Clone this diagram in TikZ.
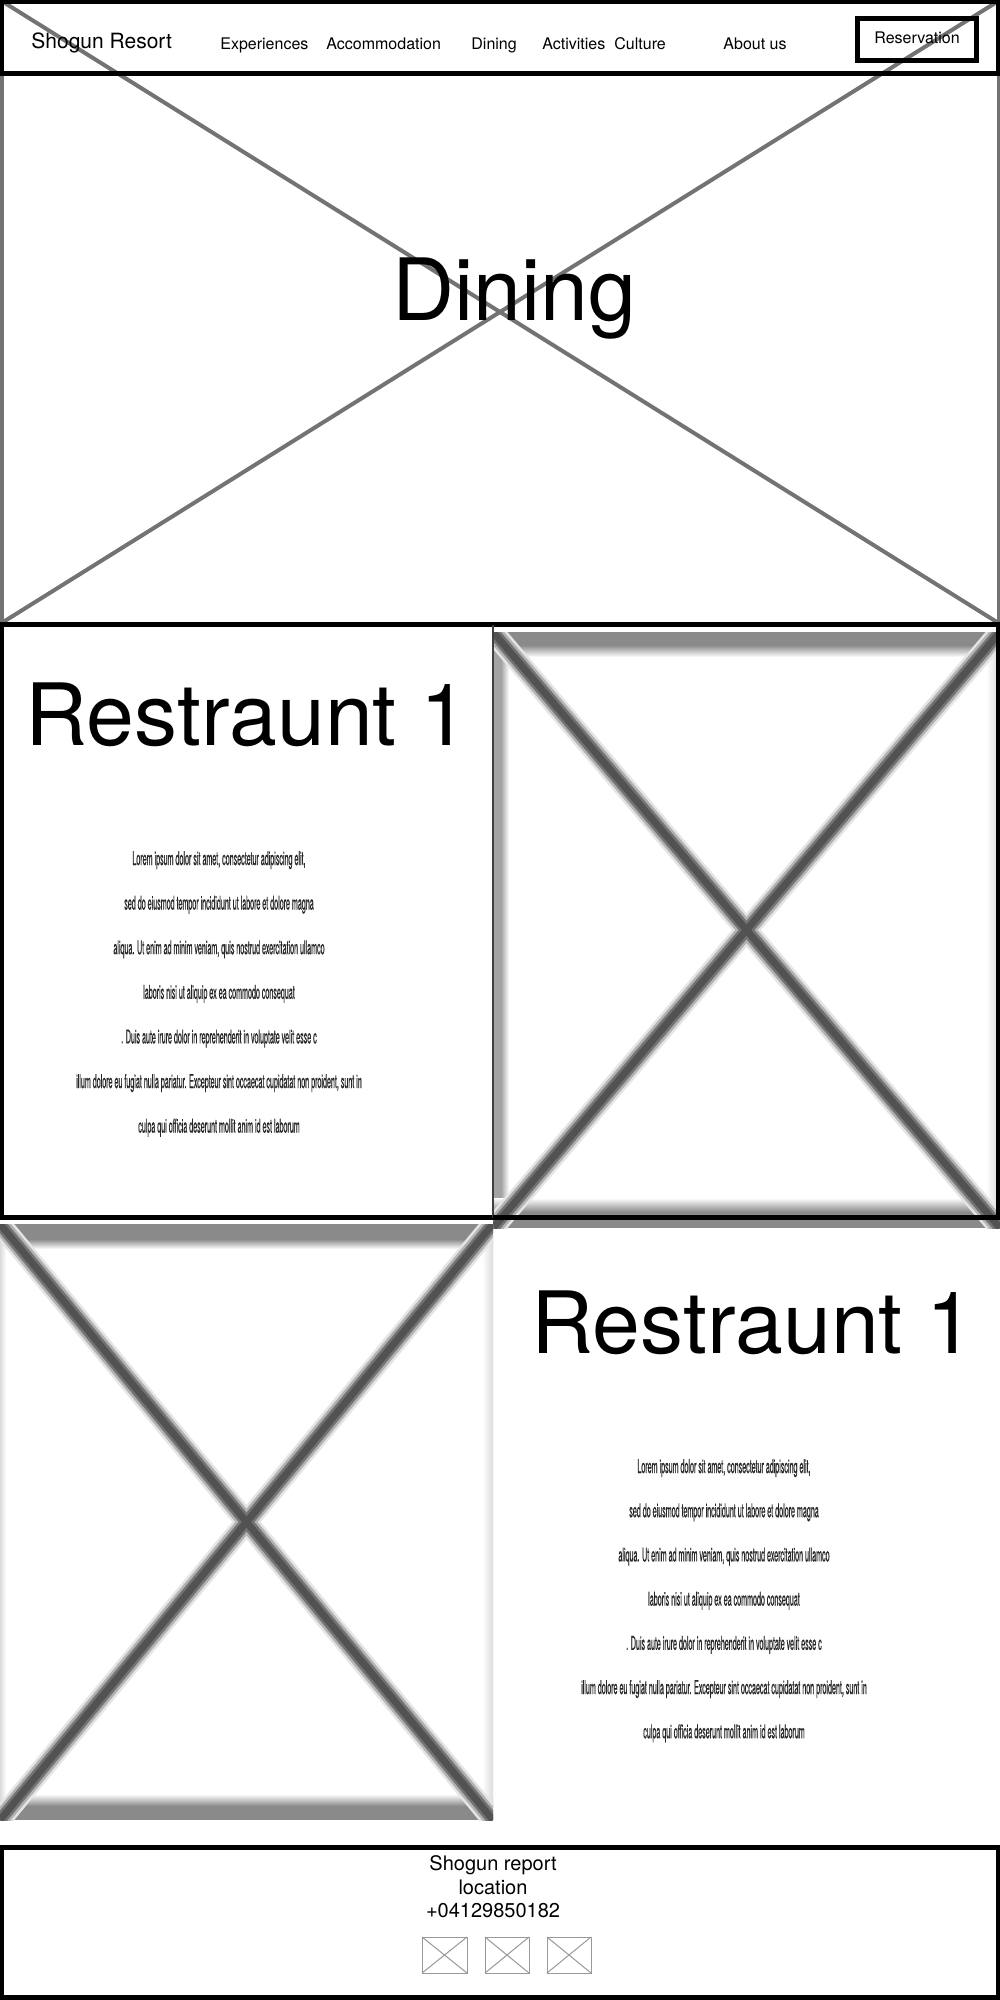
\documentclass[tikz,border=0pt]{standalone}
\usepackage{fontspec}
\setmainfont{TeX Gyre Heros}
\newfontfamily\loremfont[FakeStretch=0.375,FakeBold=0.4]{TeX Gyre Heros}
\def\lorlines{{Lorem ipsum dolor sit amet, consectetur adipiscing elit,},{sed do eiusmod tempor incididunt ut labore et dolore magna},{aliqua. Ut enim ad minim veniam, quis nostrud exercitation ullamco},{laboris nisi ut aliquip ex ea commodo consequat},{. Duis aute irure dolor in reprehenderit in voluptate velit esse c},{illum dolore eu fugiat nulla pariatur. Excepteur sint occaecat cupidatat non proident, sunt in},{culpa qui officia deserunt mollit anim id est laborum}}
\begin{document}
\begin{tikzpicture}[x=0.5pt,y=-0.5pt,
  hdr/.style={font=\fontsize{10.5}{12}\selectfont, inner sep=0, anchor=base west},
  nav/.style={font=\fontsize{8}{10}\selectfont, inner sep=0, anchor=base west},
  big/.style={font=\fontsize{43}{50}\selectfont, inner sep=0, anchor=base},
  lorem/.style={font=\loremfont\fontsize{9.5}{11}\selectfont, inner sep=0, anchor=base, text=black!85},
  foot/.style={font=\fontsize{10}{12}\selectfont, inner sep=0, anchor=base},
  frame/.style={draw=black, line width=2.25pt},
  ph/.style={draw=black!55, line width=2pt},
  icon/.style={draw=black!40, line width=0.5pt},
  bx1/.style={draw=black!10, line width=11pt},
  bx2/.style={draw=black!30, line width=8.5pt},
  bx3/.style={draw=black!55, line width=6pt},
  bx4/.style={draw=black!68, line width=3.5pt},
  band/.style={fill=black!46}
]
\useasboundingbox (0,0) rectangle (1000,2000);
\fill[white] (0,0) rectangle (1000,2000);

% ---------- hero placeholder ----------
\draw[ph] (0,0) -- (1000,624);
\draw[ph] (1000,0) -- (0,624);
\draw[ph] (1.5,74) -- (1.5,624);
\draw[ph] (998.5,74) -- (998.5,624);
\node[big] (hero) at (514,321) {Dining};

% ---------- header ----------
\draw[black, line width=2.25pt] (1.5,2) rectangle (998.5,73.5);
\node[hdr] (brand) at (31,49) {Shogun Resort};
\node[nav] (n1) at (220,50) {Experiences};
\node[nav] (n2) at (326,50) {Accommodation};
\node[nav] (n3) at (471,50) {Dining};
\node[nav] (n4) at (542,50) {Activities};
\node[nav] (n5) at (614,50) {Culture};
\node[nav] (n6) at (723,50) {About us};
\draw[black, line width=2.5pt] (857.5,18.5) rectangle (976.5,60.5);
\node[nav] (res) at (874,44) {Reservation};

% ---------- section 1 image (blurred placeholder) ----------
\begin{scope}
\clip (493,632) rectangle (1000,1228);
\fill[band] (493,632) rectangle (1000,645);
\shade[top color=black!46, bottom color=white] (493,645) rectangle (1000,657);
\fill[fill=black!36] (493,632) rectangle (501,1228);
\shade[left color=black!36, right color=white] (501,645) rectangle (509,1205);
\shade[top color=white, bottom color=black!46] (493,1198) rectangle (1000,1212);
\fill[band] (493,1212) rectangle (1000,1228);
\shade[left color=white, right color=black!15] (986,645) rectangle (1000,1205);
\foreach \s in {bx1,bx2,bx3,bx4}{
  \draw[\s] (493,632) -- (1000,1228);
  \draw[\s] (1000,632) -- (493,1228);
}
\end{scope}

% ---------- section 1 frame ----------
\draw[black, line width=2.5pt] (0,624.5) -- (1000,624.5);
\draw[frame] (493,624.5) -- (1.5,624.5) -- (1.5,1217.5) -- (493,1217.5);
\draw[draw=black!75, line width=1pt] (493,624.5) -- (493,1217.5);
\draw[frame] (493,1217.5) -- (1000,1217.5);
\draw[frame] (998,624.5) -- (998,1217.5);

\node[big] (r1) at (247,745) {Restraunt 1};
\foreach \t [count=\i] in \lorlines {
  \node[lorem] (la\i) at (219,{865+44.6*(\i-1)}) {\t};
}

% ---------- section 2 image (blurred placeholder) ----------
\begin{scope}
\clip (0,1224) rectangle (493,1820);
\fill[band] (0,1224) rectangle (493,1239);
\shade[top color=black!46, bottom color=white] (0,1239) rectangle (493,1249);
\shade[top color=white, bottom color=black!46] (0,1794) rectangle (493,1806);
\fill[band] (0,1806) rectangle (493,1820);
\shade[left color=white, right color=black!14] (482,1240) rectangle (493,1806);
\shade[left color=black!14, right color=white] (0,1240) rectangle (6,1806);
\foreach \s in {bx1,bx2,bx3,bx4}{
  \draw[\s] (0,1224) -- (493,1820);
  \draw[\s] (493,1224) -- (0,1820);
}
\end{scope}

\node[big] (r2) at (753,1353) {Restraunt 1};
\foreach \t [count=\i] in \lorlines {
  \node[lorem] (lb\i) at (724,{1473+44.2*(\i-1)}) {\t};
}

% ---------- footer ----------
\draw[frame, line width=2.5pt] (1.5,1847.5) rectangle (998.5,1997.5);
\node[foot] (f1) at (493,1870) {Shogun report};
\node[foot] (f2) at (493,1894) {location};
\node[foot] (f3) at (493,1917) {+04129850182};
\foreach \a/\b [count=\k] in {422/467,485/529,547/591}{
  \draw[icon] (\a,1937) rectangle (\b,1973);
  \draw[icon] (\a,1937) -- (\b,1973);
  \draw[icon] (\b,1937) -- (\a,1973);
}
\end{tikzpicture}
\end{document}
